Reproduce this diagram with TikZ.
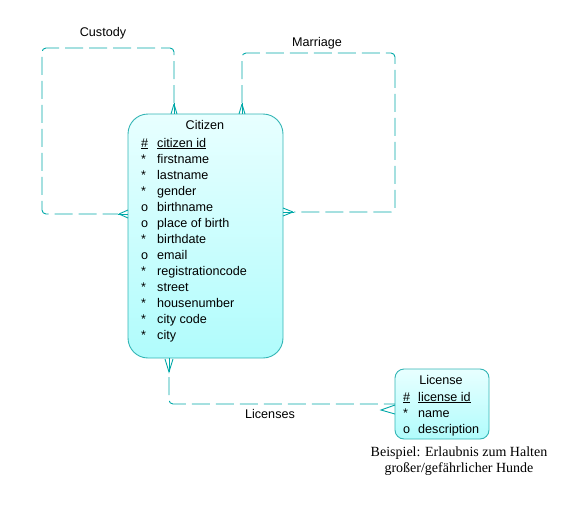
\documentclass[tikz,border=0pt]{standalone}
\usepackage{fontspec}
\setmainfont{Liberation Sans}
\newfontfamily\notefont{Liberation Serif}
\definecolor{edgeteal}{HTML}{00A8A8}
\definecolor{boxline}{HTML}{33B5B5}
\definecolor{fillA}{HTML}{E8FFFF}
\definecolor{fillB}{HTML}{B0FCFC}
\tikzset{
  entity/.style={draw=boxline, line width=0.9pt, top color=fillA, bottom color=fillB, inner sep=0pt},
  rel/.style={draw=edgeteal, line width=0.9pt, dash pattern=on 18pt off 6pt, rounded corners=4pt},
  crow/.style={draw=edgeteal, line width=0.9pt},
  attr/.style={anchor=base west, inner sep=0pt, font=\fontsize{12.6}{14}\selectfont},
  ttl/.style={anchor=base, inner sep=0pt, font=\fontsize{12.6}{14}\selectfont},
  rlabel/.style={inner sep=0pt, font=\fontsize{12.6}{14}\selectfont},
  note/.style={align=center, inner sep=0pt, font=\notefont\fontsize{14}{16}\selectfont}
}
\begin{document}
\begin{tikzpicture}[x=1pt, y=-1pt]
\useasboundingbox (0,0) rectangle (576,509);
% Entities
\node[entity, rounded corners=20pt, minimum width=155pt, minimum height=244pt] (citizen) at (205.5,236) {};
\node[entity, rounded corners=9pt, minimum width=94pt, minimum height=70pt] (license) at (442,404) {};
% Citizen text
\node[ttl] (ct) at (205,129) {Citizen};
\node[attr] (c1s) at (141,147) {\underline{\#}};
\node[attr] (c1) at (157,147) {\underline{citizen id}};
\foreach \s/\t [count=\i from 1] in {*/firstname,*/lastname,*/gender,o/birthname,o/place of birth,*/birthdate,o/email,*/registrationcode,*/street,*/housenumber,*/city code,*/city}{
  \node[attr] (cs\i) at (141,147+16*\i) {\s};
  \node[attr] (ca\i) at (157,147+16*\i) {\t};
}
% License text
\node[ttl] (lt) at (441,384) {License};
\node[attr] (l1s) at (403,401) {\underline{\#}};
\node[attr] (l1) at (418,401) {\underline{license id}};
\node[attr] (l2s) at (403,417) {*};
\node[attr] (l2) at (418,417) {name};
\node[attr] (l3s) at (403,433) {o};
\node[attr] (l3) at (418,433) {description};
% Note
\node[note] (nt) at (459,461) {Beispiel: Erlaubnis zum Halten\\gro\ss er/gef\"ahrlicher Hunde};
% Connection points
\coordinate (cuT) at (174,114);
\coordinate (cuTtip) at (174,103);
\coordinate (cuL) at (128,214);
\coordinate (cuLtip) at (118,214);
\coordinate (maT) at (242,114);
\coordinate (maTtip) at (242,103);
\coordinate (maR) at (283,212);
\coordinate (maRtip) at (294,212);
\coordinate (liB) at (169,358);
\coordinate (liBtip) at (169,372);
\coordinate (liR) at (395,404);
\coordinate (liRtip) at (381,409);
% Custody
\draw[rel] (cuTtip) -- (174,48) -- (42,48) -- (42,214) -- (cuLtip);
\draw[crow] (cuTtip) -- (cuT);
\draw[crow] (174,104) -- (171,114) (174,104) -- (177,114);
\draw[crow] (cuLtip) -- (cuL);
\draw[crow] (119,214) -- (128,210) (119,214) -- (128,218);
\node[rlabel] (custody) at (103,33) {Custody};
% Marriage
\draw[rel] (maTtip) -- (242,53) -- (395,53) -- (395,212) -- (maRtip);
\draw[crow] (maTtip) -- (maT);
\draw[crow] (242,104) -- (239,114) (242,104) -- (245,114);
\draw[crow] (maRtip) -- (maR);
\draw[crow] (293,212) -- (283,208) (293,212) -- (283,216);
\node[rlabel] (marriage) at (317,43) {Marriage};
% Licenses
\draw[rel] (169,377) -- (169,404) -- (liR);
\draw[crow] (liB) -- (169,372);
\draw[crow] (165,359) -- (169,372) -- (173,359);
\draw[crow] (395,405) -- (381,410) -- (395,414);
\node[rlabel] (licenses) at (270,414) {Licenses};
\end{tikzpicture}
\end{document}
